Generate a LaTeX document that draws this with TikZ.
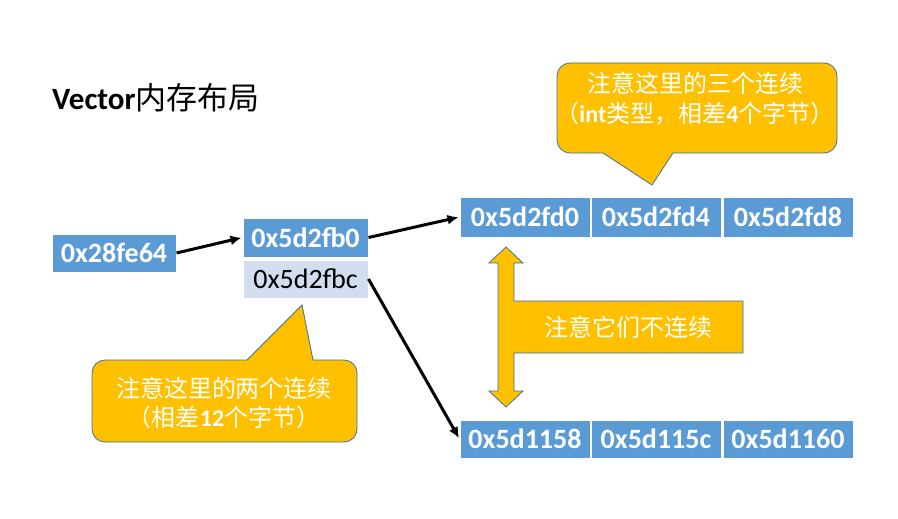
\documentclass[tikz,border=0pt]{standalone}
\usepackage{fontspec}
\setmainfont{Carlito}
\newfontfamily\cjk{Noto Sans CJK SC}
\usetikzlibrary{arrows.meta}
\definecolor{cellblue}{HTML}{5B9BD5}
\definecolor{celllight}{HTML}{D2DEEF}
\definecolor{gold}{HTML}{FFC000}
\definecolor{goldline}{HTML}{41719C}
\tikzset{
  cell/.style={fill=cellblue, draw=white, line width=1pt, inner sep=0pt, minimum width=130pt, minimum height=40pt,
    text=white, font=\fontsize{28}{32}\selectfont\bfseries},
  lightcell/.style={fill=celllight, draw=white, line width=1pt, inner sep=0pt, minimum width=125pt, minimum height=38pt,
    text=black, font=\fontsize{28}{32}\selectfont},
  ptr/.style={line width=3pt, -{Latex[length=11pt,width=10pt]}, shorten >=1pt},
  callout/.style={fill=gold, draw=goldline, line width=0.8pt},
  ctext/.style={text=white, font=\fontsize{24}{28}\selectfont, align=center, inner sep=0pt}
}
\begin{document}
\begin{tikzpicture}[x=1pt,y=-1pt]
\useasboundingbox[fill=white] (0,0) rectangle (898,519);

% title
\node[anchor=west, inner sep=0pt, font=\fontsize{31}{36}\selectfont] (title) at (52,98)
  {\textbf{Vector}{\cjk 内存布局}};

% pointer boxes
\node[cell, minimum width=124pt, minimum height=38pt] (a) at (114,253) {0x28fe64};
\node[cell, minimum width=125pt, minimum height=39pt] (b) at (305.5,237.5) {0x5d2fb0};
\node[lightcell] (c) at (305.5,279) {0x5d2fbc};

% top row
\node[cell] (t1) at (525,217) {0x5d2fd0};
\node[cell] (t2) at (656,217) {0x5d2fd4};
\node[cell] (t3) at (788,217) {0x5d2fd8};

% bottom row
\node[cell, minimum height=38pt] (u1) at (525,439) {0x5d1158};
\node[cell, minimum height=38pt] (u2) at (656,439) {0x5d115c};
\node[cell, minimum height=38pt] (u3) at (788,439) {0x5d1160};

% arrows
\draw[ptr] (a.east) -- (b.west);
\draw[ptr] (b.east) -- (t1.west);
\draw[ptr] (c.east) -- (u1.west);

% top callout
\draw[callout] (603,153) -- (652,185) -- (673,153)
  [rounded corners=13pt] -- (837,153) -- (837,63) -- (557,63) -- (557,153)
  [sharp corners] -- cycle;
\node[ctext] (topnote) at (695,99)
  {{\cjk 注意这里的三个连续}\\[2pt]{\cjk （}\textbf{int}{\cjk 类型，相差}\textbf{4}{\cjk 个字节）}};

% lower callout
\draw[callout] (247,360) -- (302,305) -- (313,360)
  [rounded corners=13pt] -- (357,360) -- (357,442) -- (92,442) -- (92,360)
  [sharp corners] -- cycle;
\node[ctext] (lownote) at (224,403)
  {{\cjk 注意这里的两个连续}\\[1pt]{\cjk （相差}\textbf{12}{\cjk 个字节）}};

% double arrow with side box
\draw[callout] (506,247) -- (523,263) -- (514,263) -- (514,301) -- (743,301) -- (743,353)
  -- (514,353) -- (514,391) -- (523,391) -- (506,407) -- (489,391) -- (498,391)
  -- (498,263) -- (489,263) -- cycle;
\node[ctext] (gapnote) at (628,327) {\cjk 注意它们不连续};
\end{tikzpicture}
\end{document}
